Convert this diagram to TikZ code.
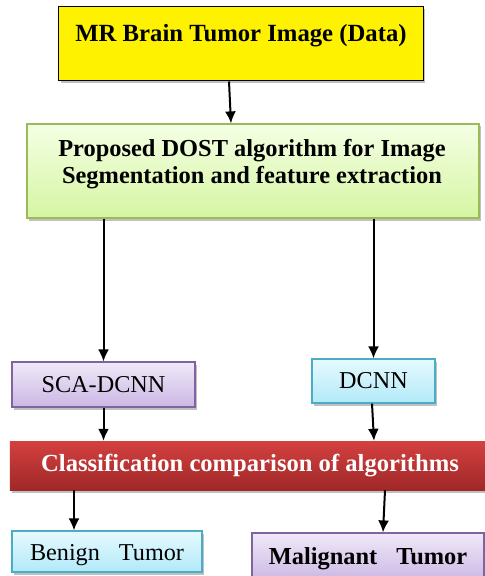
\documentclass[tikz,border=0pt]{standalone}
\usepackage{fontspec}
\setmainfont{Liberation Serif}
\usetikzlibrary{arrows.meta,shadows,calc}
\definecolor{greentop}{HTML}{F4FFE4}
\definecolor{greenbot}{HTML}{D6F5A2}
\definecolor{greenbd}{HTML}{9BBB59}
\definecolor{purtop}{HTML}{F0E9F8}
\definecolor{purbot}{HTML}{CBB7E4}
\definecolor{purbd}{HTML}{8064A2}
\definecolor{cyantop}{HTML}{E6FAFF}
\definecolor{cyanbot}{HTML}{B2E9F8}
\definecolor{cyanbd}{HTML}{4BACC6}
\definecolor{redtop}{HTML}{D44040}
\definecolor{redbot}{HTML}{A02828}
\tikzset{
  box/.style={rectangle, inner sep=0pt, align=center, font=\fontsize{24.3}{27}\selectfont,
    drop shadow={shadow xshift=2bp, shadow yshift=-2.5bp, fill=black!35, opacity=0.7}},
  yellowbox/.style={box, draw=black, line width=1bp, fill=yellow, font=\fontsize{24.8}{27}\selectfont\bfseries},
  greenbox/.style={box, draw=greenbd, line width=1.2bp, top color=greentop, bottom color=greenbot},
  purbox/.style={box, draw=purbd, line width=1.2bp, top color=purtop, bottom color=purbot},
  cyanbox/.style={box, draw=cyanbd, line width=1.2bp, top color=cyantop, bottom color=cyanbot},
  redbox/.style={box, draw=none, top color=redtop, bottom color=redbot, text=white, font=\fontsize{24.7}{27}\selectfont\bfseries},
  arr/.style={line width=2bp, -{Latex[length=12bp,width=11bp]}}
}
\begin{document}
\begin{tikzpicture}[x=1bp,y=-1bp]
\useasboundingbox[fill=white] (0,0) rectangle (485,576);
\node[yellowbox, minimum width=364bp, minimum height=74bp, text depth=22bp] (data) at (241,44) {MR Brain Tumor Image (Data)};
\node[greenbox, minimum width=452bp, minimum height=94bp] (dost) at (253,171) {};
\node[font=\fontsize{24.5}{27.5}\selectfont\bfseries, align=center, inner sep=0pt] (dosttxt) at (252,164) {Proposed DOST algorithm for Image\\Segmentation and feature extraction};
\node[purbox, minimum width=183bp, minimum height=45bp] (sca) at (103.5,384.5) {SCA-DCNN};
\node[cyanbox, minimum width=123bp, minimum height=44bp] (dcnn) at (373.5,381) {DCNN};
\node[redbox, minimum width=480bp, minimum height=49bp] (cls) at (250,465.5) {Classification comparison of algorithms};
\node[cyanbox, minimum width=190bp, minimum height=41bp, text height=22bp, text depth=5bp] (benign) at (107,551.5) {Benign\hspace{19bp}Tumor};
\node[purbox, minimum width=232bp, minimum height=48bp, text height=20bp, text depth=5bp, font=\fontsize{24.5}{27}\selectfont\bfseries] (malig) at (368,557) {Malignant\hspace{19bp}Tumor};

\draw[arr] ([xshift=-12bp]data.south) -- ([xshift=-22bp]dost.north);
\draw[arr] (dost.south -| sca.north) -- (sca.north);
\draw[arr] (dost.south -| dcnn.north) -- (dcnn.north);
\draw[arr] (sca.south) -- (sca.south |- cls.north);
\draw[arr] ([xshift=-1.5bp]dcnn.south) -- ([xshift=0.5bp]dcnn.south |- cls.north);
\draw[arr] ([xshift=-33bp]benign.north |- cls.south) -- ([xshift=-33bp]benign.north);
\draw[arr] ([xshift=17bp]malig.north |- cls.south) -- ([xshift=15bp]malig.north);
\end{tikzpicture}
\end{document}
